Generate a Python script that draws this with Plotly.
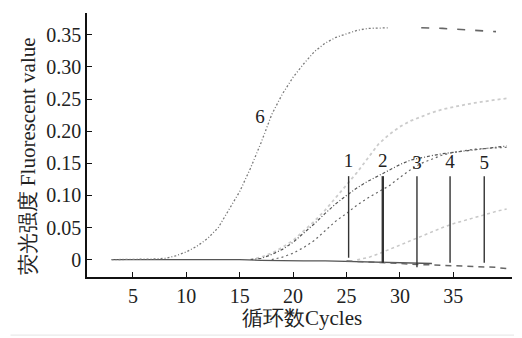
import plotly.graph_objects as go

# ---------------- data ----------------
# curve 6 (early, high) cycles 3..29
curve6_cycles = list(range(3, 30))
curve6 = [0, 0, 0.001, 0.001, 0.001, 0.002, 0.006, 0.012, 0.021, 0.033, 0.05,
          0.078, 0.106, 0.142, 0.182, 0.226, 0.258, 0.284, 0.305, 0.324, 0.337,
          0.346, 0.352, 0.357, 0.36, 0.361, 0.361]
curve6_tail_cycles = [32, 33, 34, 35, 36, 37, 38, 39]
curve6_tail = [0.361, 0.361, 0.36, 0.359, 0.358, 0.357, 0.356, 0.355]

curve1_cycles = list(range(16, 41))
curve1 = [0.0, 0.004, 0.01, 0.019, 0.03, 0.045, 0.06, 0.077, 0.097, 0.117,
          0.136, 0.158, 0.18, 0.195, 0.207, 0.216, 0.223, 0.229, 0.234, 0.238,
          0.241, 0.244, 0.247, 0.249, 0.251]

curve2_cycles = list(range(16, 41))
curve2 = [0.0, 0.002, 0.008, 0.016, 0.027, 0.041, 0.056, 0.072, 0.087, 0.1,
          0.112, 0.122, 0.131, 0.14, 0.148, 0.155, 0.159, 0.162, 0.165, 0.167,
          0.169, 0.171, 0.173, 0.175, 0.177]

curve3_cycles = list(range(18, 41))
curve3 = [0.0, 0.004, 0.01, 0.019, 0.03, 0.045, 0.06, 0.072, 0.085, 0.096,
          0.106, 0.115, 0.128, 0.14, 0.15, 0.157, 0.163, 0.167, 0.17, 0.172,
          0.173, 0.174, 0.175]

curve4_cycles = list(range(26, 41))
curve4 = [0.0, 0.003, 0.009, 0.016, 0.023, 0.03, 0.037, 0.044, 0.05, 0.056,
          0.061, 0.066, 0.071, 0.075, 0.079]

baseline_cycles = [3, 5, 5.5, 8, 10, 12, 14, 15, 17, 19, 21, 23, 25, 27, 29, 31, 33]
baseline = [0.0, 0.0, 0.001, 0.001, 0.001, 0.001, 0.0, 0.0, -0.001, -0.002,
            -0.002, -0.002, -0.003, -0.004, -0.005, -0.005, -0.006]

curve5_cycles = [25, 27, 29, 31, 33, 35, 37, 38, 39, 40]
curve5 = [-0.002, -0.003, -0.005, -0.007, -0.008, -0.009, -0.01, -0.011, -0.012, -0.014]

ct_cycles = [25.2, 28.4, 31.6, 34.7, 37.9]
ct_top = [0.13, 0.13, 0.13, 0.13, 0.13]
ct_bottom = [0.003, -0.005, -0.012, -0.005, -0.005]
ct_labels = ["1", "2", "3", "4", "5"]
ct_label_y = [0.152, 0.152, 0.148, 0.15, 0.148]

label6_x = 16.9
label6_y = 0.22

xtick_vals = [5, 10, 15, 20, 25, 30, 35]
ytick_vals = [0, 0.05, 0.10, 0.15, 0.20, 0.25, 0.30, 0.35]
ytick_text = ["0", "0.05", "0.10", "0.15", "0.20", "0.25", "0.30", "0.35"]

x_title = "循环数Cycles"
y_title = "荧光强度 Fluorescent value"

# ---------------- figure ----------------
FONT = "Liberation Serif, Times New Roman, serif"
TXT = "#222222"
fig = go.Figure()

fig.add_trace(go.Scatter(x=baseline_cycles, y=baseline, mode="lines",
                         line=dict(color="#555555", width=1.3), hoverinfo="skip"))
fig.add_trace(go.Scatter(x=curve5_cycles, y=curve5, mode="lines",
                         line=dict(color="#666666", width=1.5, dash="6px,5px"), hoverinfo="skip"))
fig.add_trace(go.Scatter(x=curve6_cycles, y=curve6, mode="lines",
                         line=dict(color="#7a7a7a", width=1.3, dash="2px,2px,1px,2px"), hoverinfo="skip"))
fig.add_trace(go.Scatter(x=curve6_tail_cycles, y=curve6_tail, mode="lines",
                         line=dict(color="#666666", width=1.6, dash="8px,10px"), hoverinfo="skip"))
fig.add_trace(go.Scatter(x=curve1_cycles, y=curve1, mode="lines",
                         line=dict(color="#cccccc", width=1.8, dash="3px,3px"), hoverinfo="skip"))
fig.add_trace(go.Scatter(x=curve2_cycles, y=curve2, mode="lines",
                         line=dict(color="#555555", width=1.2, dash="3px,2px,1px,2px"), hoverinfo="skip"))
fig.add_trace(go.Scatter(x=curve3_cycles, y=curve3, mode="lines",
                         line=dict(color="#666666", width=1.2, dash="2px,3px"), hoverinfo="skip"))
fig.add_trace(go.Scatter(x=curve4_cycles, y=curve4, mode="lines",
                         line=dict(color="#c8c8c8", width=1.5, dash="3px,3px"), hoverinfo="skip"))

for i, (cx, top, bot) in enumerate(zip(ct_cycles, ct_top, ct_bottom)):
    fig.add_trace(go.Scatter(x=[cx, cx], y=[bot, top], mode="lines",
                             line=dict(color="#333333", width=2.4 if i == 1 else 1.4),
                             hoverinfo="skip"))

fig.add_trace(go.Scatter(x=ct_cycles, y=ct_label_y, mode="text", text=ct_labels,
                         textfont=dict(family=FONT, size=19, color=TXT),
                         hoverinfo="skip"))
fig.add_trace(go.Scatter(x=[label6_x], y=[label6_y], mode="text", text=["6"],
                         textfont=dict(family=FONT, size=19, color=TXT),
                         hoverinfo="skip"))

axis_common = dict(showline=True, linecolor="#111111", linewidth=1.5,
                   ticks="inside", ticklen=5, tickcolor="#111111", tickwidth=1.2,
                   showgrid=False, zeroline=False, mirror=False, automargin=False,
                   tickfont=dict(family=FONT, size=20, color=TXT))

# page body adds ~8px offset; figure is sized so the plot lands where the reference has it
fig.update_layout(
    width=514, height=330,
    margin=dict(l=79, r=10, t=5, b=61),
    paper_bgcolor="white", plot_bgcolor="white",
    showlegend=False,
    font=dict(family=FONT, color=TXT),
    xaxis=dict(range=[0.7, 40.5], tickvals=xtick_vals, **axis_common),
    yaxis=dict(range=[-0.027, 0.384], tickvals=ytick_vals, ticktext=ytick_text,
               **axis_common),
)

fig.add_annotation(text=x_title, xref="paper", yref="paper", x=0.505, y=-0.155,
                   xanchor="center", yanchor="middle", showarrow=False,
                   font=dict(family=FONT, size=21, color=TXT))
fig.add_annotation(text=y_title, xref="paper", yref="paper", x=-0.14, y=0.455,
                   xanchor="center", yanchor="middle", textangle=-90, showarrow=False,
                   font=dict(family=FONT, size=21, color=TXT))

# faint outer frame of the scanned picture
fig.add_shape(type="line", xref="paper", yref="paper", x0=-0.18, x1=1.007, y0=-0.22, y1=-0.22,
              line=dict(color="#e4e4e4", width=1))
fig.add_shape(type="line", xref="paper", yref="paper", x0=1.007, x1=1.007, y0=-0.22, y1=1.03,
              line=dict(color="#e4e4e4", width=1))

fig.write_html("out.html")
